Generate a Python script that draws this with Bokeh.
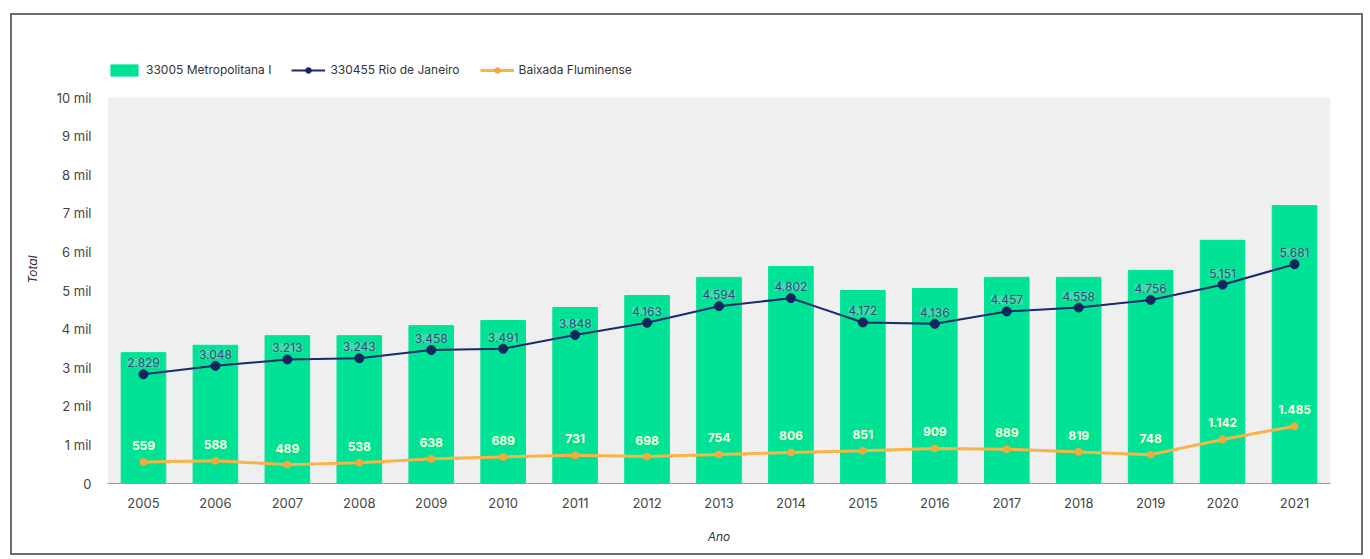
from bokeh.plotting import figure
from bokeh.models import (ColumnDataSource, FactorRange, Range1d, Legend, LegendItem,
                          FixedTicker, BoxAnnotation)
from bokeh.core.properties import value
from bokeh.embed import file_html
from bokeh.resources import INLINE

years = [str(y) for y in range(2005, 2022)]
metro = [3390, 3580, 3830, 3830, 4090, 4220, 4560, 4870, 5340, 5620,
         5000, 5050, 5340, 5340, 5520, 6300, 7200]
rio = [2829, 3048, 3213, 3243, 3458, 3491, 3848, 4163, 4594, 4802,
       4172, 4136, 4457, 4558, 4756, 5151, 5681]
baixada = [559, 588, 489, 538, 638, 689, 731, 698, 754, 806,
           851, 909, 889, 819, 748, 1142, 1485]
y_ticks = list(range(0, 10001, 1000))
y_tick_labels = ["0"] + [f"{i} mil" for i in range(1, 11)]
Y_MAX = 10000

FONT = "Inter"

def br(n):
    return f"{n:,}".replace(",", ".")

src = ColumnDataSource(dict(
    year=years, metro=metro, rio=rio, baixada=baixada,
    rio_lbl=[br(v) for v in rio], bx_lbl=[br(v) for v in baixada],
))

# frame is 428px tall; the value axis spans 386px of it (room for legend above)
p = figure(x_range=FactorRange(*years, range_padding=0),
           y_range=Range1d(0, Y_MAX * 428 / 386),
           width=1353, height=542, output_backend="svg", toolbar_location=None,
           min_border_left=95, min_border_right=35, min_border_top=40,
           min_border_bottom=74)
p.margin = (13, 0, 0, 10)
p.styles = {"border": "2px solid #6e6e6e"}
p.background_fill_color = "white"
p.border_fill_color = "white"
p.outline_line_color = None
p.xgrid.grid_line_color = None
p.ygrid.grid_line_color = None

p.add_layout(BoxAnnotation(bottom=0, top=Y_MAX, fill_color="#efefef",
                           fill_alpha=1, line_color=None, level="underlay"))

bars = p.vbar(x="year", top="metro", width=0.62, color="#00E396", source=src)
rl = p.line(x="year", y="rio", color="#1B2A6B", line_width=2, source=src)
rs = p.scatter(x="year", y="rio", color="#14245E", size=9, source=src)
bl = p.line(x="year", y="baixada", color="#F9B347", line_width=3, source=src)
bs = p.scatter(x="year", y="baixada", color="#F4A93A", size=7, source=src)

p.text(x="year", y="rio", text="rio_lbl", source=src, y_offset=-7,
       text_align="center", text_baseline="bottom", text_font=value(FONT),
       text_font_size="12px", text_color="#2C4E78",
       background_fill_color="#7fd9c4", background_fill_alpha=0.45)
p.text(x="year", y="baixada", text="bx_lbl", source=src, y_offset=-12,
       text_align="center", text_baseline="bottom", text_font=value(FONT),
       text_font_size="12px", text_color="#FFF8DC", text_font_style="bold")

p.yaxis.ticker = FixedTicker(ticks=y_ticks)
p.yaxis.major_label_overrides = {t: l for t, l in zip(y_ticks, y_tick_labels)}
p.yaxis.axis_line_color = None
p.yaxis.major_tick_line_color = None
p.yaxis.minor_tick_line_color = None
p.yaxis.major_label_text_font = FONT
p.yaxis.major_label_text_font_size = "13px"
p.yaxis.major_label_text_color = "#444444"
p.yaxis.major_label_standoff = 10
p.yaxis.axis_label = "Total"
p.yaxis.axis_label_text_font = FONT
p.yaxis.axis_label_text_font_size = "12px"
p.yaxis.axis_label_text_font_style = "italic"
p.yaxis.axis_label_text_color = "#333333"
p.yaxis.axis_label_standoff = 14

p.xaxis.axis_line_color = "#9a9a9a"
p.xaxis.major_tick_line_color = None
p.xaxis.minor_tick_line_color = None
p.xaxis.major_label_text_font = FONT
p.xaxis.major_label_text_font_size = "13px"
p.xaxis.major_label_text_color = "#444444"
p.xaxis.major_label_standoff = 8
p.xaxis.axis_label = "Ano"
p.xaxis.axis_label_text_font = FONT
p.xaxis.axis_label_text_font_size = "12px"
p.xaxis.axis_label_text_font_style = "italic"
p.xaxis.axis_label_text_color = "#333333"
p.xaxis.axis_label_standoff = 18

legend = Legend(items=[
    LegendItem(label="33005 Metropolitana I", renderers=[bars]),
    LegendItem(label="330455 Rio de Janeiro", renderers=[rl, rs]),
    LegendItem(label="Baixada Fluminense", renderers=[bl, bs]),
], orientation="horizontal", location=(0, 406), padding=0, margin=0,
    spacing=20, glyph_width=34, glyph_height=14, label_standoff=5,
    label_text_font=FONT, label_text_font_size="12px",
    label_text_color="#333333", background_fill_alpha=0,
    border_line_color=None)
p.add_layout(legend, "center")

open("out.html", "w").write(file_html(p, INLINE))
